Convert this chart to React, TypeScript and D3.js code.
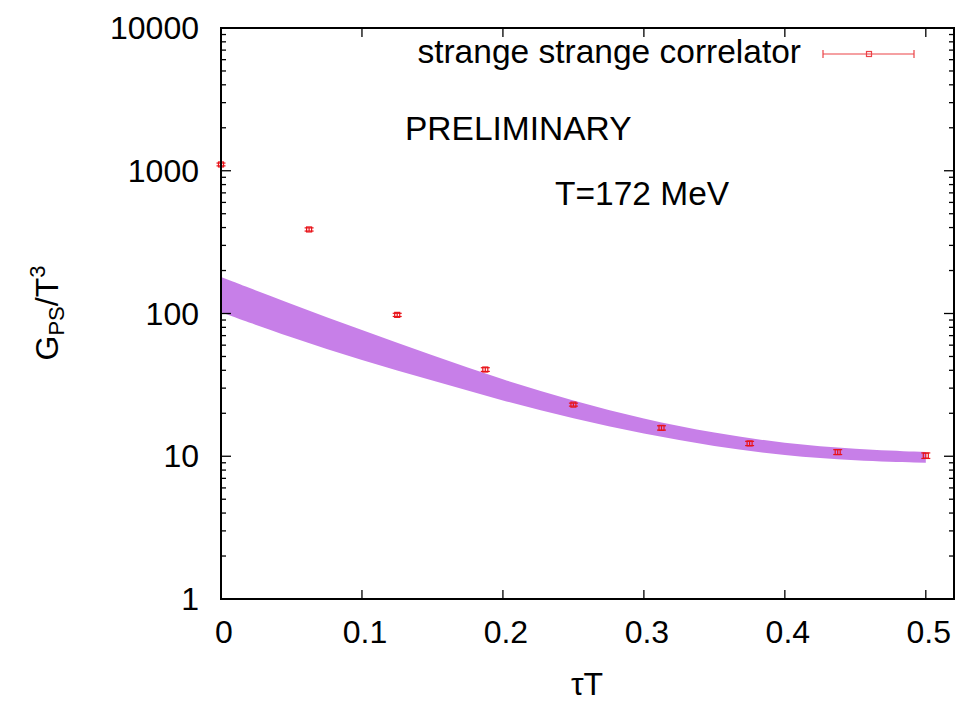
import React from "react";
import * as d3 from "d3";

const tauT = [0, 0.0625, 0.125, 0.1875, 0.25, 0.3125, 0.375, 0.4375, 0.5];
const corr = [1107, 388, 97.8, 40.5, 23.0, 15.8, 12.3, 10.7, 10.1];
const corrErr = [25, 10, 2.5, 1.2, 0.55, 0.55, 0.42, 0.42, 0.45];

const bandX = [0, 0.05, 0.1, 0.15, 0.2, 0.25, 0.3, 0.35, 0.4, 0.45, 0.5];
const bandUpper = [180, 116.4, 76.4, 50.8, 34.3, 24.4, 18.2, 14.5, 12.3, 11.2, 10.7];
const bandLower = [102, 67.6, 47.0, 33.9, 24.4, 18.4, 14.3, 11.7, 10.1, 9.3, 9.0];

const xTicks = [0, 0.1, 0.2, 0.3, 0.4, 0.5];
const xTickLabels = ["0", "0.1", "0.2", "0.3", "0.4", "0.5"];
const yTicks = [1, 10, 100, 1000, 10000];
const yTickLabels = ["1", "10", "100", "1000", "10000"];

const legendLabel = "strange strange correlator";
const note1 = "PRELIMINARY";
const note2 = "T=172 MeV";

export default function App() {
  const W = 963, H = 706;
  const L = 221, R = 954, T = 28, B = 599;
  const x = d3.scaleLinear().domain([0, 0.52]).range([L, R]);
  const y = d3.scaleLog().domain([1, 10000]).range([B, T]);
  const font = "'Liberation Sans', Arial, Helvetica, sans-serif";
  const fs = 32;
  const fsText = 33.5;
  const red = "#e8141a";

  const bandData = bandX.map((v, i) => ({ x: v, lo: bandLower[i], hi: bandUpper[i] }));
  const area = d3
    .area<{ x: number; lo: number; hi: number }>()
    .x((d) => x(d.x))
    .y0((d) => y(d.lo))
    .y1((d) => y(d.hi))
    .curve(d3.curveBasis);

  const minor: number[] = [];
  for (let e = 0; e < 4; e++) {
    for (let m = 2; m <= 9; m++) minor.push(m * Math.pow(10, e));
  }

  const cap = 4.5;
  const sq = 2.5;

  return (
    <svg
      width={W}
      height={H}
      style={{ position: "absolute", left: 0, top: 0, background: "#fff" }}
      fontFamily={font}
    >
      <rect x={0} y={0} width={W} height={H} fill="#fff" />
      {/* band */}
      <path d={area(bandData) || ""} fill="#c77fe8" stroke="none" />

      {/* data with error bars */}
      {tauT.map((t, i) => {
        const cx = x(t);
        const yTop = y(corr[i] + corrErr[i]);
        const yBot = y(corr[i] - corrErr[i]);
        const cy = y(corr[i]);
        return (
          <g key={i} stroke={red} strokeWidth={1.2} fill="none">
            <line x1={cx} x2={cx} y1={yTop} y2={yBot} />
            <line x1={cx - cap} x2={cx + cap} y1={yTop} y2={yTop} />
            <line x1={cx - cap} x2={cx + cap} y1={yBot} y2={yBot} />
            <rect x={cx - sq} y={cy - sq} width={2 * sq} height={2 * sq} />
          </g>
        );
      })}

      {/* ticks */}
      <g stroke="#000" strokeWidth={1.3}>
        {xTicks.map((t, i) => (
          <g key={"xt" + i}>
            <line x1={x(t)} x2={x(t)} y1={B} y2={B - 9} />
            <line x1={x(t)} x2={x(t)} y1={T} y2={T + 9} />
          </g>
        ))}
        {yTicks.map((t, i) => (
          <g key={"yt" + i}>
            <line x1={L} x2={L + 10} y1={y(t)} y2={y(t)} />
            <line x1={R} x2={R - 10} y1={y(t)} y2={y(t)} />
          </g>
        ))}
        {minor.map((t, i) => (
          <g key={"ym" + i}>
            <line x1={L} x2={L + 5} y1={y(t)} y2={y(t)} />
            <line x1={R} x2={R - 5} y1={y(t)} y2={y(t)} />
          </g>
        ))}
      </g>

      {/* frame */}
      <rect x={L} y={T} width={R - L} height={B - T} fill="none" stroke="#000" strokeWidth={2} />

      {/* tick labels */}
      <g fontSize={fs} fill="#000">
        {xTicks.map((t, i) => (
          <text key={"xl" + i} x={x(t) + 3} y={643} textAnchor="middle">
            {xTickLabels[i]}
          </text>
        ))}
        {yTicks.map((t, i) => (
          <text key={"yl" + i} x={199} y={y(t) + 11} textAnchor="end">
            {yTickLabels[i]}
          </text>
        ))}
      </g>

      {/* axis titles */}
      <text x={587} y={695} fontSize={fs} textAnchor="middle">
        τT
      </text>
      <text transform="translate(58,313) rotate(-90)" fontSize={fs} textAnchor="middle">
        G<tspan fontSize={22} dy={6}>PS</tspan>
        <tspan dy={-6}>/T</tspan>
        <tspan fontSize={22} dy={-13}>3</tspan>
      </text>

      {/* legend */}
      <text x={801} y={63} fontSize={fsText} textAnchor="end">
        {legendLabel}
      </text>
      <g stroke={red} strokeWidth={1.2} fill="none" opacity={0.8}>
        <line x1={823} x2={914} y1={54} y2={54} />
        <line x1={823} x2={823} y1={50} y2={58} />
        <line x1={914} x2={914} y1={50} y2={58} />
        <rect x={869 - sq} y={54 - sq} width={2 * sq} height={2 * sq} />
      </g>

      {/* annotations */}
      <text x={405} y={140} fontSize={fsText}>
        {note1}
      </text>
      <text x={555} y={205} fontSize={fsText}>
        {note2}
      </text>
    </svg>
  );
}
